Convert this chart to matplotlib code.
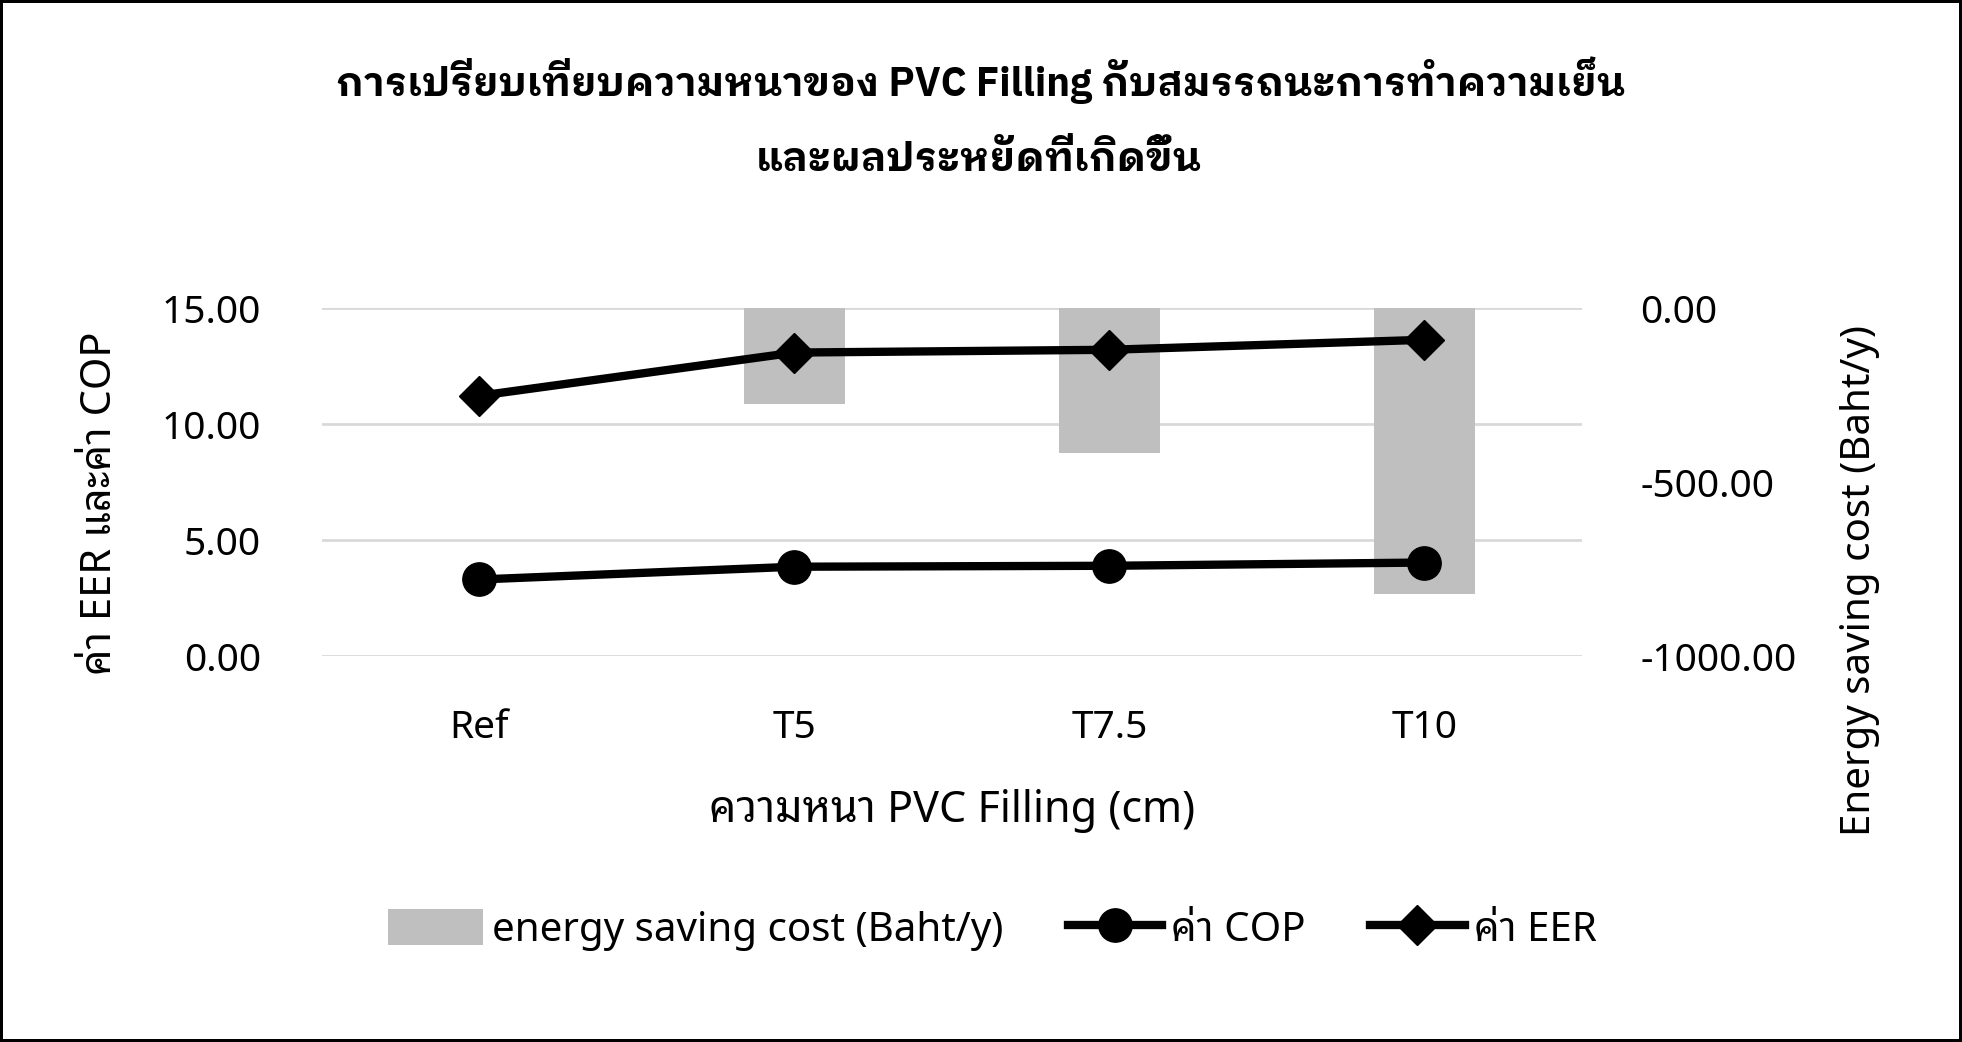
import matplotlib
matplotlib.use("Agg")
import matplotlib.pyplot as plt
import numpy as np
from matplotlib.ticker import FormatStrFormatter

plt.rcParams['font.family'] = ['Noto Sans Thai Looped', 'Noto Sans', 'DejaVu Sans']

# ข้อมูล
categories = ["Ref", "T5", "T7.5", "T10"]
saving_cost = [0, -276, -416, -822]      # Baht/y (แกนขวา)
cop = [3.30, 3.85, 3.89, 4.03]
eer = [11.22, 13.08, 13.20, 13.63]

title1 = "การเปรียบเทียบความหนาของ PVC Filling กับสมรรถนะการทำความเย็น"
title2 = "และผลประหยัดที่เกิดขึ้น"
xlabel = "ความหนา PVC Filling (cm)"
ylabel_left = "ค่า EER และค่า COP"
ylabel_right = "Energy saving cost (Baht/y)"

fig = plt.figure(figsize=(19.62, 10.42), dpi=100)
fig.patch.set_edgecolor("black")
fig.patch.set_linewidth(4)

rect = [0.1641, 0.3704, 0.6422, 0.334]
ax = fig.add_axes(rect)
ax2 = ax.twinx()
ax3 = fig.add_axes(rect, sharex=ax, sharey=ax)

x = np.arange(len(categories))

# แกนซ้าย: grid + tick
ax.set_xlim(-0.5, len(categories) - 0.5)
ax.set_ylim(0, 15)
ax.set_yticks([0, 5, 10, 15])
ax.yaxis.set_major_formatter(FormatStrFormatter("%.2f"))
ax.grid(axis="y", color="#D9D9D9", linewidth=2)
ax.set_axisbelow(True)
ax.set_xticks(x)
ax.set_xticklabels(categories)
ax.tick_params(axis="both", length=0, labelsize=28, colors="#000000")
ax.tick_params(axis="x", pad=38)
ax.tick_params(axis="y", pad=44)
for s in ax.spines.values():
    s.set_visible(False)

# แกนขวา: แท่ง
bars = ax2.bar(x, saving_cost, width=0.32, color="#BFBFBF", label="energy saving cost (Baht/y)")
ax2.set_ylim(-1000, 0)
ax2.set_yticks([0, -500, -1000])
ax2.yaxis.set_major_formatter(FormatStrFormatter("%.2f"))
ax2.tick_params(axis="y", length=0, labelsize=28, pad=42)
for s in ax2.spines.values():
    s.set_visible(False)

# เส้น COP / EER ด้านบนสุด
ax3.set_zorder(ax2.get_zorder() + 1)
ax3.patch.set_visible(False)
ax3.axis("off")
l1, = ax3.plot(x, cop, color="black", linewidth=6, marker="o", markersize=24, label="ค่า COP")
l2, = ax3.plot(x, eer, color="black", linewidth=6, marker="D", markersize=20, label="ค่า EER")

ax.set_xlabel(xlabel, fontsize=31, va="center")
ax.xaxis.set_label_coords(0.5, -0.445)
ax.set_ylabel(ylabel_left, fontsize=30, va="center")
ax.yaxis.set_label_coords(-0.176, 0.44)
ax2.set_ylabel(ylabel_right, fontsize=29, va="center", rotation=90)
ax2.yaxis.set_label_coords(1.2206, 0.218)

title_font = ['IBM Plex Sans Thai Looped', 'Noto Sans Thai Looped', 'DejaVu Sans']
fig.text(0.4997, 0.923, title1, ha="center", va="center", fontsize=28.7,
         fontweight="bold", family=title_font)
fig.text(0.4990, 0.8465, title2, ha="center", va="center", fontsize=28.7,
         fontweight="bold", family=title_font)

fig.legend(handles=[bars, l1, l2], loc="center", bbox_to_anchor=(0.5058, 0.1075),
           ncol=3, frameon=False, fontsize=29, handlelength=2.35, handleheight=1.0,
           handletextpad=0.22, columnspacing=1.6, numpoints=1)

fig.savefig("out.png", dpi=100)
